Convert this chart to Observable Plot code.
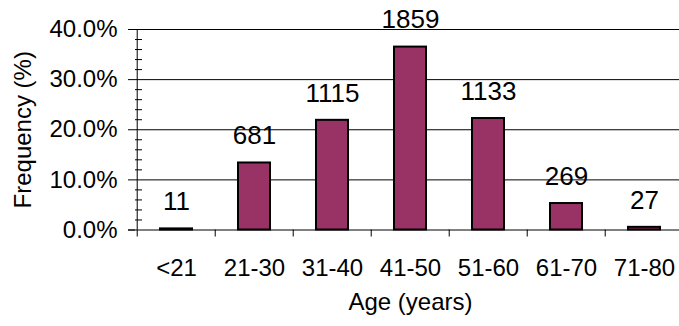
<!DOCTYPE html>
<html><head><meta charset="utf-8">
<script src="https://cdn.jsdelivr.net/npm/d3@7"></script>
<script src="https://cdn.jsdelivr.net/npm/@observablehq/plot@0.6"></script>
<style>html,body{margin:0;padding:0;background:#fff;overflow:hidden}</style>
</head><body><div id="chart"></div>
<script>
const categories = ["<21", "21-30", "31-40", "41-50", "51-60", "61-70", "71-80"];
const counts = [11, 681, 1115, 1859, 1133, 269, 27];
const frequencies = [0.22, 13.37, 21.88, 36.49, 22.24, 5.28, 0.53];
const majorTicks = [0, 10, 20, 30, 40];
const minorTicks = [2, 4, 6, 8, 12, 14, 16, 18, 22, 24, 26, 28, 32, 34, 36, 38];
const xTitle = "Age (years)";
const yTitle = "Frequency (%)";

const W = 679, H = 326;
const mL = 135, mR = -6, mT = 29, mB = 96.5;
const plotW = W - mL - mR;
const step = plotW / categories.length;
const data = categories.map((c, i) => ({cat: c, count: counts[i], freq: frequencies[i]}));
const font = "'Liberation Sans', Arial, Helvetica, sans-serif";

const chart = Plot.plot({
  width: W, height: H,
  marginLeft: mL, marginRight: mR, marginTop: mT, marginBottom: mB,
  style: {fontFamily: font, background: "#fff", color: "#000", overflow: "hidden"},
  x: {domain: categories, paddingInner: 0.59, paddingOuter: 0.295},
  y: {domain: [0, 40]},
  marks: [
    Plot.ruleY(majorTicks.filter(d => d > 0), {y: d => d, stroke: "#000", strokeWidth: 1}),
    Plot.ruleY(minorTicks, {y: d => d, insetRight: plotW - 7, stroke: "#000"}),
    Plot.ruleX([categories[0]], {x: d => d, dx: -step / 2, y1: 0, y2: 40, stroke: "#000"}),
    Plot.ruleX(categories, {x: d => d, dx: -step / 2, y1: 0, y2: 0, insetTop: 7, stroke: "#000"}),
    Plot.barY(data, {x: "cat", y: "freq", fill: "#993366", stroke: "#000", strokeWidth: 2}),
    Plot.ruleY([0], {stroke: "#000", insetLeft: -7}),
    Plot.text(data, {x: "cat", y: "freq", text: d => String(d.count), dy: -27, fontSize: 26, fill: "#000"}),
    Plot.axisY({ticks: majorTicks, tickSize: 7, tickPadding: 11, tickFormat: d => d.toFixed(1) + "%", fontSize: 24, label: null}),
    Plot.axisX({tickSize: 0, tickPadding: 29, fontSize: 24, label: null}),
    Plot.text([yTitle], {frameAnchor: "left", dx: -112, rotate: -90, textAnchor: "middle", fontSize: 24, fill: "#000"}),
    Plot.text([xTitle], {frameAnchor: "bottom", dy: 80, textAnchor: "middle", fontSize: 24, fill: "#000"})
  ]
});
document.getElementById("chart").appendChild(chart);
</script>
</body></html>
